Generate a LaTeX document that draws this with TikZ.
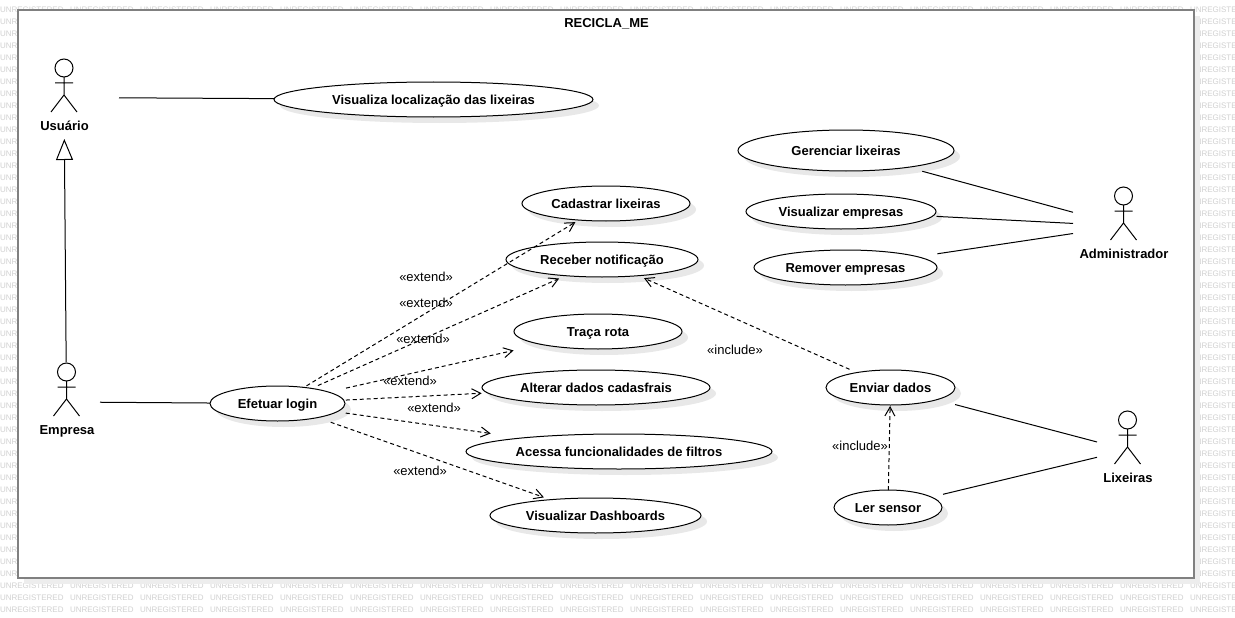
\documentclass[tikz,border=0pt]{standalone}
\usepackage{fontspec}
\setmainfont{Liberation Sans}
\usetikzlibrary{shapes.geometric,arrows.meta,shadows}
\tikzset{
  x=1pt,y=-1pt,
  every node/.style={inner sep=0pt,outer sep=0pt},
  wm/.style={anchor=west,text=black!18,font=\fontsize{8}{9}\selectfont},
  usecase/.style={ellipse,draw=black,line width=1pt,fill=white,minimum height=35pt,
    text height=11pt,text depth=1pt,font=\fontsize{13}{15}\selectfont\bfseries,
    general shadow={shadow xshift=6pt,shadow yshift=-6pt,fill=black!9}},
  actorbox/.style={rectangle,draw=none,fill=none},
  actorlabel/.style={font=\fontsize{13}{15}\selectfont\bfseries,text height=11pt,text depth=1pt},
  lbl/.style={font=\fontsize{13}{15}\selectfont,text height=10pt,text depth=2pt},
  assoc/.style={draw=black,line width=1pt},
  dep/.style={draw=black,line width=1pt,dash pattern=on 4pt off 3pt,
    -{Straight Barb[length=9pt,width=10pt,line width=1pt]}},
  gen/.style={draw=black,line width=1pt,
    -{Triangle[open,fill=white,length=21pt,width=17pt,line width=1pt]}},
  stick/.style={draw=black,line width=1pt},
}
\newcommand{\umlactor}[7]{% name, cx, head y, box cy, box half width, box half height, label
  \node[actorbox,minimum width=2*#5 pt,minimum height=2*#6 pt] (#1) at (#2,#4) {};
  \begin{scope}[shift={(#2,#3)}]
    \draw[stick] (0,0) circle[radius=9pt];
    \draw[stick] (0,9) -- (0,27) (-9,15) -- (9,15) (-13,44) -- (0,27) -- (13,44);
    \node[actorlabel] (#1-label) at (0.5,57) {#7};
  \end{scope}
}
\begin{document}
\begin{tikzpicture}
\useasboundingbox (0,0) rectangle (1235,618);
\fill[white] (0,0) rectangle (1235,618);
% watermark
\foreach \r in {0,...,50}{
  \foreach \c in {0,...,17}{
    \node[wm] (w\r-\c) at ({70*\c},{9.5+12*\r}) {UNREGISTERED};
  }
}
% frame
\fill[black!7] (24,16) rectangle (1200,584);
\draw[draw=black!50,line width=2pt,fill=white] (18,10) rectangle (1194,578);
\node[font=\fontsize{13}{15}\selectfont\bfseries,text height=11pt,text depth=1pt] (title) at (606.5,22.5) {RECICLA\_ME};

% actors
\umlactor{usuario}{64}{68}{97.5}{55}{41.5}{Usuário}
\umlactor{empresa}{66.5}{372}{402}{33.5}{40}{Empresa}
\umlactor{admin}{1123.5}{196}{226}{50.5}{40}{Administrador}
\umlactor{lixeiras}{1127.5}{420}{450}{30.5}{40}{Lixeiras}

% use cases
\node[usecase,minimum width=319pt] (visualiza) at (433.5,99.5) {Visualiza localização das lixeiras};
\node[usecase,minimum width=216pt,minimum height=41pt] (gerenciar) at (846,150.5) {Gerenciar lixeiras};
\node[usecase,minimum width=190pt] (vempresas) at (841,211.5) {Visualizar empresas};
\node[usecase,minimum width=183pt] (remover) at (845.5,267.5) {Remover empresas};
\node[usecase,minimum width=168pt] (cadastrar) at (606,203.5) {Cadastrar lixeiras};
\node[usecase,minimum width=192pt] (receber) at (602,259.5) {Receber notificação};
\node[usecase,minimum width=168pt] (traca) at (598,331.5) {Traça rota};
\node[usecase,minimum width=228pt] (alterar) at (596,387.5) {Alterar dados cadasfrais};
\node[usecase,minimum width=306pt] (acessa) at (619,451.5) {Acessa funcionalidades de filtros};
\node[usecase,minimum width=211pt] (dash) at (595.5,515.5) {Visualizar Dashboards};
\node[usecase,minimum width=135pt] (login) at (277.5,403.5) {Efetuar login};
\node[usecase,minimum width=129pt] (enviar) at (890.5,387.5) {Enviar dados};
\node[usecase,minimum width=108pt] (ler) at (888,507.5) {Ler sensor};

% associations
\draw[assoc] (usuario) -- (visualiza);
\draw[assoc] (empresa) -- (login);
\draw[assoc,shorten <=15pt] (gerenciar) -- (admin);
\draw[assoc,shorten <=4pt] (vempresas) -- (admin);
\draw[assoc,shorten <=20pt] (remover) -- (admin);
\draw[assoc,shorten <=19pt] (enviar) -- (lixeiras);
\draw[assoc,shorten <=12pt] (ler) -- (lixeiras);
\draw[gen] (empresa) -- (usuario);

% extends
\draw[dep,shorten <=3pt,shorten >=4pt] (login) -- (cadastrar);
\draw[dep,shorten <=7pt,shorten >=7pt] (login) -- (receber);
\draw[dep,shorten <=18pt,shorten >=28pt] (login) -- (traca);
\draw[dep,shorten <=2pt,shorten >=6pt] (login) -- (alterar);
\draw[dep,shorten <=9pt,shorten >=32pt] (login) -- (acessa);
\draw[dep,shorten <=14pt,shorten >=7pt] (login) -- (dash);
% includes
\draw[dep,shorten <=8pt,shorten >=6pt] (enviar) -- (receber);
\draw[dep,shorten >=1pt] (ler) -- (enviar);

% labels
\node[lbl] (e1) at (426,277) {«extend»};
\node[lbl] (e2) at (426,303) {«extend»};
\node[lbl] (e3) at (423,339) {«extend»};
\node[lbl] (e4) at (410,381) {«extend»};
\node[lbl] (e5) at (434,408) {«extend»};
\node[lbl] (e6) at (420,471) {«extend»};
\node[lbl] (i1) at (735,350) {«include»};
\node[lbl] (i2) at (860,446) {«include»};
\end{tikzpicture}
\end{document}
